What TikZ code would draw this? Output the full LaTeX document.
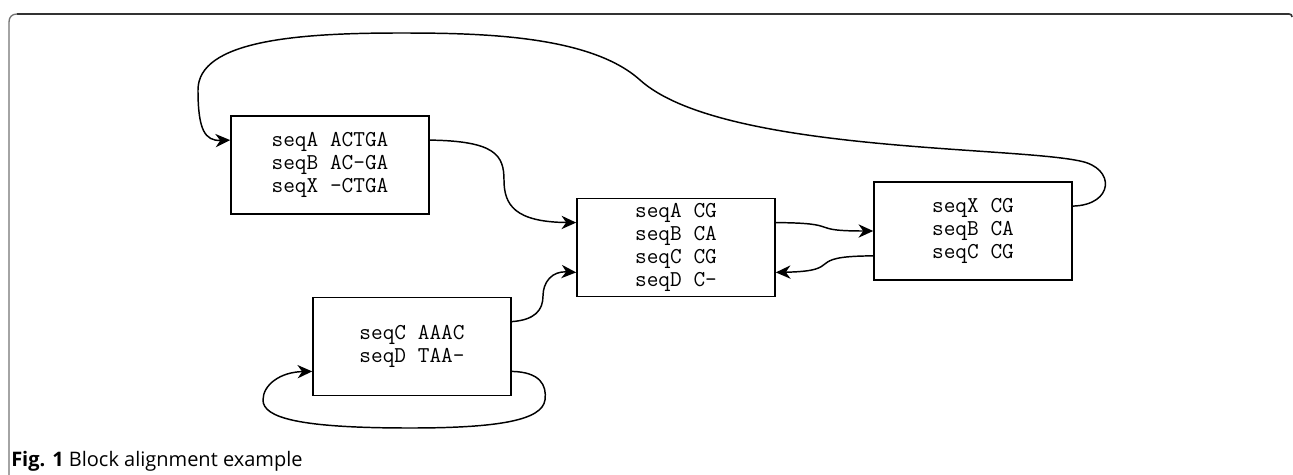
\documentclass[tikz,border=0pt]{standalone}
\usepackage{fontspec}
\newfontfamily\capfont{Open Sans}
\usetikzlibrary{arrows.meta,calc}

\tikzset{
  blk/.style={draw, line width=1.2pt, minimum width=148.5pt, minimum height=73.5pt,
    inner sep=0pt, align=center, font=\ttfamily\fontsize{17}{17.25}\selectfont},
  lnk/.style={line width=1.1pt, -{Stealth[length=11pt,width=10pt,inset=3.5pt]}}
}

\begin{document}
\begin{tikzpicture}[x=0.75pt,y=0.75pt,yscale=-1,xscale=1]
\useasboundingbox (0,0) rectangle (1293,475);

%Frame
\draw[color=black!80, line width=1.2pt] (17,14) -- (1289,14) .. controls (1291,14) and (1292,15) .. (1292,17);
\draw[color=black!55, line width=1pt] (9,475) -- (9,22) .. controls (9,17) and (12,14) .. (17,14);

%Blocks
\node[blk] (b1) at (330,165) {seqA ACTGA\\seqB AC-GA\\seqX -CTGA};
\node[blk] (b2) at (676,247.5) {seqA CG\\seqB CA\\seqC CG\\seqD C-};
\node[blk] (b3) at (973,231) {seqX CG\\seqB CA\\seqC CG};
\node[blk] (b4) at (412,346.5) {seqC AAAC\\seqD TAA-};

%Ports
\coordinate (b1w) at ($(b1.north west)!.25!(b1.south west)$);
\coordinate (b1e) at ($(b1.north east)!.25!(b1.south east)$);
\coordinate (b2w1) at ($(b2.north west)!.25!(b2.south west)$);
\coordinate (b2w2) at ($(b2.north west)!.75!(b2.south west)$);
\coordinate (b2e1) at ($(b2.north east)!.25!(b2.south east)$);
\coordinate (b2e2) at ($(b2.north east)!.75!(b2.south east)$);
\coordinate (b3w2) at ($(b3.north west)!.75!(b3.south west)$);
\coordinate (b3e) at ($(b3.north east)!.25!(b3.south east)$);
\coordinate (b4w) at ($(b4.north west)!.75!(b4.south west)$);
\coordinate (b4e1) at ($(b4.north east)!.25!(b4.south east)$);
\coordinate (b4e2) at ($(b4.north east)!.75!(b4.south east)$);

%Curved links
\draw[lnk] (b3e) .. controls (1114,205) and (1116,168) .. (1080,161)
  .. controls (1010,146) and (720,152) .. (640,80)
  .. controls (590,35) and (480,33) .. (400,33)
  .. controls (300,33) and (198,40) .. (198,90)
  .. controls (198,130) and (205,141) .. (b1w);
\draw[lnk] (b1e) .. controls (495,141) and (504,155) .. (504,180)
  .. controls (504,205) and (515,222) .. (b2w1);
\draw[lnk] (b4e1) .. controls (535,320) and (543,310) .. (543,296)
  .. controls (543,282) and (552,271) .. (b2w2);
\draw[lnk] (b4e2) .. controls (540,372) and (547,385) .. (545,400)
  .. controls (542,420) and (500,428) .. (410,428)
  .. controls (300,428) and (263,418) .. (263,400)
  .. controls (263,385) and (280,372) .. (b4w);
\draw[lnk] (b2e1) .. controls (845,223) and (805,231) .. (b3.west);
\draw[lnk] (b3w2) .. controls (800,256) and (848,271) .. (b2e2);

%Caption
\node[anchor=base west, font=\capfont\fontsize{15}{18}\selectfont, inner sep=0pt] (cap) at (11,466)
  {\textbf{Fig. 1} Block alignment example};

\end{tikzpicture}
\end{document}
